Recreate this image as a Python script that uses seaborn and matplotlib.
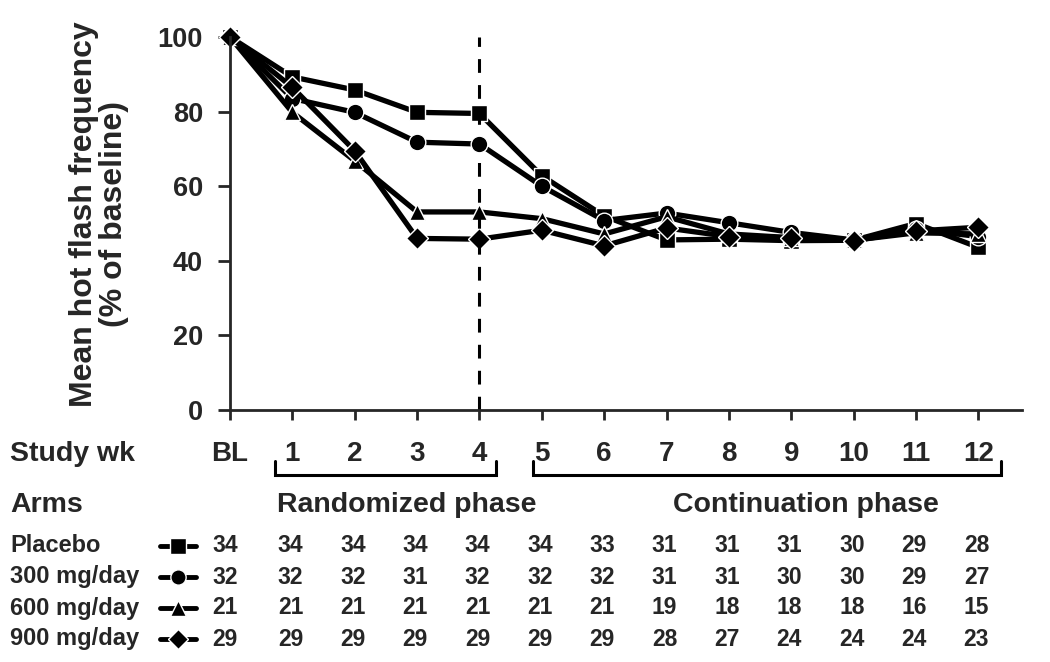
import matplotlib
matplotlib.use("Agg")
import matplotlib.pyplot as plt
import matplotlib.transforms as mtransforms
import seaborn as sns

# data
weeks = list(range(13))
week_labels = ["BL", "1", "2", "3", "4", "5", "6", "7", "8", "9", "10", "11", "12"]
arms = ["Placebo", "300 mg/day", "600 mg/day", "900 mg/day"]
markers = ["s", "o", "^", "D"]

placebo = [100, 89.3, 85.8, 79.8, 79.5, 62.8, 52.0, 45.6, 45.8, 45.4, 45.5, 50.0, 43.6]
mg300 = [100, 83.5, 79.8, 71.8, 71.3, 60.0, 50.8, 52.8, 50.2, 47.6, 45.6, 48.5, 46.5]
mg600 = [100, 79.8, 66.8, 53.1, 53.1, 51.3, 47.2, 51.8, 47.2, 46.2, 45.5, 47.5, 47.2]
mg900 = [100, 86.5, 69.5, 46.0, 45.8, 48.2, 44.0, 48.8, 46.5, 46.2, 45.4, 48.0, 49.0]
series = [placebo, mg300, mg600, mg900]

# number of patients per arm and week
n_placebo = [34, 34, 34, 34, 34, 34, 33, 31, 31, 31, 30, 29, 28]
n_300 = [32, 32, 32, 31, 32, 32, 32, 31, 31, 30, 30, 29, 27]
n_600 = [21, 21, 21, 21, 21, 21, 21, 19, 18, 18, 18, 16, 15]
n_900 = [29, 29, 29, 29, 29, 29, 29, 28, 27, 24, 24, 24, 23]
counts = [n_placebo, n_300, n_600, n_900]

sns.set_style("ticks")
plt.rcParams['font.family'] = ['Liberation Sans', 'DejaVu Sans']
plt.rcParams['font.weight'] = 'bold'

W, H = 1050, 662
fig = plt.figure(figsize=(10.5, 6.62), dpi=100)
ax = fig.add_axes([230 / W, 1 - 410 / H, 792 / W, 373 / H])

for vals, m in zip(series, markers):
    ms = 12 if m != "D" else 11
    sns.lineplot(x=weeks, y=vals, ax=ax, color="black", linewidth=3.8,
                 marker=m, markersize=ms, markeredgecolor="white",
                 markeredgewidth=1.0, clip_on=False)

ax.plot([4, 4], [0, 100], color="black", linewidth=2.2, dashes=(4.5, 4))

ax.set_xlim(0, 12.7)
ax.set_ylim(0, 100)
ax.set_xticks(weeks)
ax.set_xticklabels(week_labels)
ax.set_yticks([0, 20, 40, 60, 80, 100])
ax.tick_params(axis="y", direction="out", length=8.5, width=2, pad=11, labelsize=19.5)
ax.tick_params(axis="x", direction="out", length=7.5, width=2, pad=15, labelsize=20)
for t in ax.get_xticklabels() + ax.get_yticklabels():
    t.set_fontweight("bold")
sns.despine(ax=ax)
ax.spines["left"].set_linewidth(2)
ax.spines["bottom"].set_linewidth(2)
ax.set_ylabel("Mean hot flash frequency\n(% of baseline)", fontsize=23,
              fontweight="bold", linespacing=1.0)
ax.yaxis.set_label_coords(-0.128, 0.525)

# overlay in pixel coordinates for the table underneath
ov = fig.add_axes([0, 0, 1, 1])
ov.set_xlim(0, W)
ov.set_ylim(H, 0)
ov.axis("off")
ov.patch.set_alpha(0)

ov.text(10, 454, "Study wk", fontsize=20.5, fontweight="bold", va="center", ha="left")
ov.text(10, 505, "Arms", fontsize=20.5, fontweight="bold", va="center", ha="left")

# phase brackets
for x0, x1 in [(275, 496), (533, 1001)]:
    ov.plot([x0, x0, x1, x1], [461, 475, 475, 461], color="black", linewidth=2.2,
            solid_joinstyle="miter")
ov.text(407, 505, "Randomized phase", fontsize=20.5, fontweight="bold", va="center", ha="center")
ov.text(806, 505, "Continuation phase", fontsize=20.5, fontweight="bold", va="center", ha="center")

# counts: x in data units of the main axes, y in overlay pixels
blend = mtransforms.blended_transform_factory(ax.transData, ov.transData)
row_y = [546, 577, 608, 639]
for arm, m, y, n in zip(arms, markers, row_y, counts):
    ov.text(10, y, arm, fontsize=17, fontweight="bold", va="center", ha="left")
    ov.plot([160, 178, 196], [y, y, y], color="black", linewidth=3.5,
            marker=m, markevery=[1], markersize=11 if m != "D" else 10,
            markeredgecolor="white", markeredgewidth=1.0)
    for wk, v in zip(weeks, n):
        xx = wk - 0.08 if wk == 0 else wk - 0.03
        ov.text(xx, y, str(v), fontsize=16.5, fontweight="bold", va="center",
                ha="center", transform=blend)

fig.savefig("out.png", dpi=100)
